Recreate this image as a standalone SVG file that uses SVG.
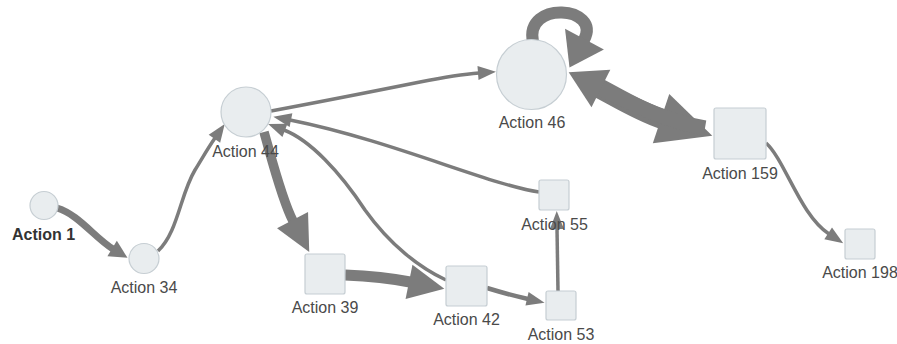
<svg xmlns="http://www.w3.org/2000/svg" width="897" height="344" viewBox="0 0 897 344">
  <style>
    .node { fill: #e9edef; stroke: #c6ced3; stroke-width: 1.2; }
    .label { font-family: "Liberation Sans", Arial, sans-serif; font-size: 16px; fill: #4a4a4a; text-anchor: middle; }
    .label.start { font-weight: bold; fill: #333333; }
    .edge { fill: none; stroke: #7c7c7c; stroke-linecap: butt; }
    .head { fill: #7c7c7c; }
  </style>
  <defs>
    <!-- arrowheads sized in user units; the path ends at the head's base -->
    <marker id="a-s" markerUnits="userSpaceOnUse" markerWidth="18" markerHeight="14" refX="1" refY="7" orient="auto" overflow="visible">
      <path class="head" d="M0,0 L18,7 L0,14 Z"/>
    </marker>
    <marker id="a-m" markerUnits="userSpaceOnUse" markerWidth="18" markerHeight="18" refX="1" refY="9" orient="auto" overflow="visible">
      <path class="head" d="M0,0 L18,9 L0,18 Z"/>
    </marker>
    <marker id="a-l" markerUnits="userSpaceOnUse" markerWidth="36" markerHeight="35" refX="1" refY="17.5" orient="auto" overflow="visible">
      <path class="head" d="M0,0 L36,17.5 L0,35 Z"/>
    </marker>
    <marker id="a-b" markerUnits="userSpaceOnUse" markerWidth="36" markerHeight="42" refX="1" refY="21" orient="auto" overflow="visible">
      <path class="head" d="M0,0 L36,21 L0,42 Z"/>
    </marker>
    <marker id="a-xl" markerUnits="userSpaceOnUse" markerWidth="54" markerHeight="52" refX="1" refY="26" orient="auto" overflow="visible">
      <path class="head" d="M0,0 L54,26 L0,52 Z"/>
    </marker>
    <marker id="a-loop" markerUnits="userSpaceOnUse" markerWidth="32" markerHeight="44" refX="1" refY="22" orient="auto" overflow="visible">
      <path class="head" d="M0,0 L32,22 L0,44 Z"/>
    </marker>
  </defs>

  <g id="connectors">
    <!-- Action 1 -> Action 34 -->
    <path class="edge" stroke-width="7" d="M57,208 C78,214 95,238 113,249" marker-end="url(#a-m)"/>
    <!-- Action 34 -> Action 44 -->
    <path class="edge" stroke-width="3.5" d="M158,251 C178,232 180,195 195,170 C203,157 208,148 215,138" marker-end="url(#a-s)"/>
    <!-- Action 44 -> Action 46 -->
    <path class="edge" stroke-width="3.5" d="M271,111 C330,100 380,90 420,82 C445,77 465,74 479,73" marker-end="url(#a-s)"/>
    <!-- Action 44 -> Action 39 -->
    <path class="edge" stroke-width="9.5" d="M264,132 C272,160 282,200 293,221" marker-end="url(#a-l)"/>
    <!-- Action 39 -> Action 42 -->
    <path class="edge" stroke-width="11" d="M345,275 C370,276 390,278 410,282" marker-end="url(#a-l)"/>
    <!-- Action 42 -> Action 44 -->
    <path class="edge" stroke-width="3.5" d="M446,280 C420,268 390,245 365,210 C340,172 310,140 284,130" marker-end="url(#a-s)"/>
    <!-- Action 55 -> Action 44 -->
    <path class="edge" stroke-width="3.5" d="M539,192 C490,185 390,140 290,120" marker-end="url(#a-s)"/>
    <!-- Action 42 -> Action 53 -->
    <path class="edge" stroke-width="4.5" d="M487,288 C500,292 515,296 528,299" marker-end="url(#a-s)"/>
    <!-- Action 53 -> Action 55 -->
    <path class="edge" stroke-width="3.5" d="M558,291 L557,228" marker-end="url(#a-s)"/>
    <!-- Action 46 -> Action 159 -->
    <path class="edge" stroke-width="20" d="M585,81 C610,93 635,110 662,119" marker-end="url(#a-xl)"/>
    <!-- Action 159 -> Action 46 -->
    <path class="edge" stroke-width="15" d="M705,128 C670,122 640,108 600,88" marker-end="url(#a-b)"/>
    <!-- Action 46 -> Action 46 -->
    <path class="edge" stroke-width="12" d="M533,42 C524,0 602,6 584,40" marker-end="url(#a-loop)"/>
    <!-- Action 159 -> Action 198 -->
    <path class="edge" stroke-width="3.5" d="M766,143 C785,160 800,215 829,234" marker-end="url(#a-s)"/>
  </g>

  <g id="node-action-1">
    <circle class="node" cx="44" cy="205.5" r="14"/>
    <text class="label start" x="43.5" y="240">Action 1</text>
  </g>
  <g id="node-action-34">
    <circle class="node" cx="144" cy="258.5" r="15"/>
    <text class="label" x="144" y="293">Action 34</text>
  </g>
  <g id="node-action-44">
    <circle class="node" cx="246" cy="112" r="25"/>
    <text class="label" x="245.5" y="157">Action 44</text>
  </g>
  <g id="node-action-46">
    <circle class="node" cx="531.5" cy="74.5" r="35"/>
    <text class="label" x="532" y="128">Action 46</text>
  </g>
  <g id="node-action-159">
    <rect class="node" x="714" y="108" width="52" height="51" rx="2"/>
    <text class="label" x="740" y="179">Action 159</text>
  </g>
  <g id="node-action-39">
    <rect class="node" x="305" y="254" width="40" height="40" rx="2"/>
    <text class="label" x="325" y="313">Action 39</text>
  </g>
  <g id="node-action-42">
    <rect class="node" x="446" y="266" width="41" height="40" rx="2"/>
    <text class="label" x="466.5" y="325">Action 42</text>
  </g>
  <g id="node-action-53">
    <rect class="node" x="546" y="291" width="30" height="29" rx="2"/>
    <text class="label" x="561" y="340">Action 53</text>
  </g>
  <g id="node-action-55">
    <rect class="node" x="539" y="180" width="30" height="30" rx="2"/>
    <text class="label" x="554.5" y="230">Action 55</text>
  </g>
  <g id="node-action-198">
    <rect class="node" x="845" y="229" width="30" height="30" rx="2"/>
    <text class="label" x="860" y="278">Action 198</text>
  </g>
</svg>
